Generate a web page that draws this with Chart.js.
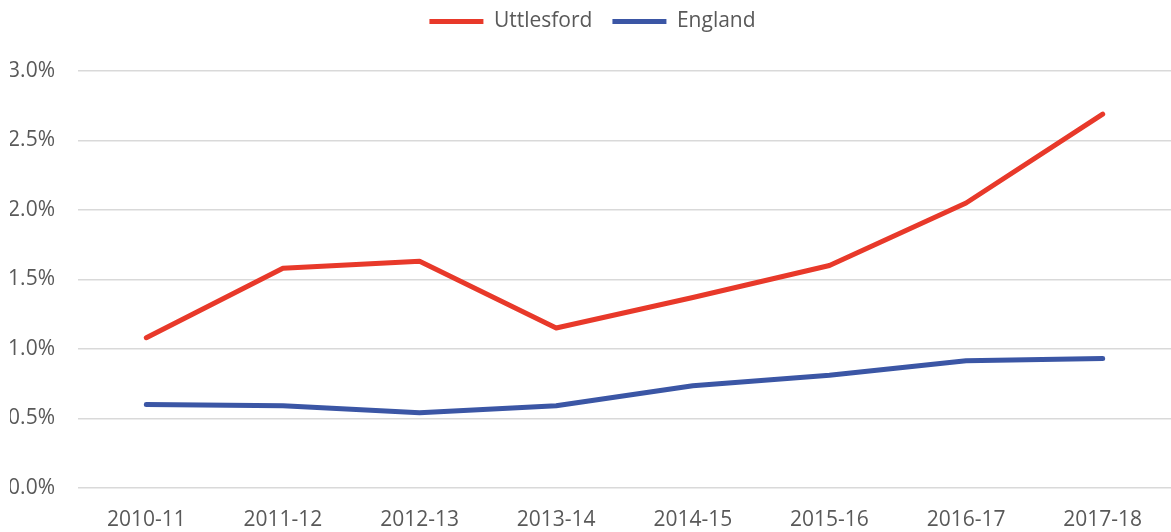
<!DOCTYPE html>
<html>
<head>
<meta charset="utf-8">
<script src="https://cdn.jsdelivr.net/npm/chart.js@4"></script>
<style>
  html, body { margin: 0; padding: 0; background: #fff; }
  #wrap { width: 1171px; height: 532px; position: relative; }
</style>
</head>
<body>
<div id="wrap"><canvas id="lineChart"></canvas></div>
<script>
// chart data (values in %)
const years = ['2010-11', '2011-12', '2012-13', '2013-14', '2014-15', '2015-16', '2016-17', '2017-18'];
const uttlesford = [1.08, 1.58, 1.63, 1.15, 1.37, 1.60, 2.05, 2.69];
const england = [0.60, 0.59, 0.54, 0.59, 0.735, 0.81, 0.915, 0.93];
const yTicks = [0, 0.5, 1.0, 1.5, 2.0, 2.5, 3.0];

const textColor = '#595959';
const grid = '#d9d9d9';
const font = { family: "'Open Sans', sans-serif", size: 21 };

// fixes the legend block height so the plot starts lower
const legendSpacer = {
  id: 'legendSpacer',
  beforeInit(chart) {
    const origFit = chart.legend.fit;
    chart.legend.fit = function () {
      origFit.bind(chart.legend)();
      this.height = 80;
    };
  },
};

const data = {
  labels: years,
  datasets: [
    {
      label: 'Uttlesford',
      data: uttlesford,
      borderColor: '#e8392a',
      backgroundColor: '#e8392a',
      borderWidth: 5,
      borderCapStyle: 'round',
      borderJoinStyle: 'round',
      pointRadius: 0,
      tension: 0,
    },
    {
      label: 'England',
      data: england,
      borderColor: '#3b56a5',
      backgroundColor: '#3b56a5',
      borderWidth: 5,
      borderCapStyle: 'round',
      borderJoinStyle: 'round',
      pointRadius: 0,
      tension: 0,
    },
  ],
};

const config = {
  type: 'line',
  data: data,
  plugins: [legendSpacer],
  options: {
    responsive: true,
    maintainAspectRatio: false,
    animation: false,
    events: [],
    layout: {
      padding: { left: 10, right: -4, top: -9, bottom: -13 },
    },
    plugins: {
      legend: {
        position: 'top',
        labels: {
          usePointStyle: true,
          pointStyle: 'line',
          pointStyleWidth: 54,
          padding: 20,
          color: textColor,
          font: font,
        },
      },
      tooltip: { enabled: false },
    },
    scales: {
      x: {
        offset: true,
        grid: { display: false },
        border: { display: false },
        ticks: { color: textColor, font: font, padding: 12, maxRotation: 0 },
      },
      y: {
        min: 0,
        max: 3,
        afterBuildTicks: (axis) => {
          axis.ticks = yTicks.map((v) => ({ value: v }));
        },
        afterFit: (axis) => {
          axis.width = 68;
        },
        grid: { color: grid, lineWidth: 1.5, drawTicks: false },
        border: { display: false },
        ticks: {
          color: textColor,
          font: font,
          padding: 23,
          callback: (value) => value.toFixed(1) + '%',
        },
      },
    },
  },
};

new Chart(document.getElementById('lineChart'), config);
</script>
</body>
</html>
